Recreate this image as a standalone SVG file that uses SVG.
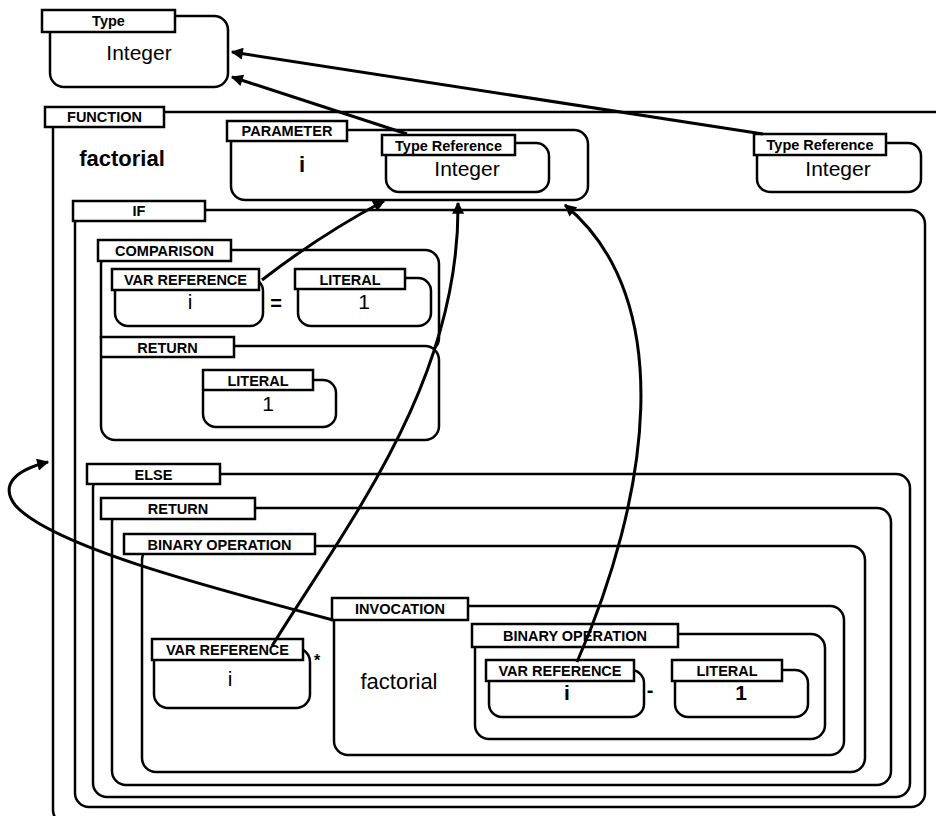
<svg xmlns="http://www.w3.org/2000/svg" width="936" height="816" viewBox="0 0 936 816">
<defs>
<marker id="arr" viewBox="0 0 10 10" refX="9" refY="5" markerWidth="17" markerHeight="12" markerUnits="userSpaceOnUse" orient="auto">
<path d="M0,0 L10,5 L0,10 z" fill="#000"/>
</marker>
<style>
.body{fill:#fff;stroke:#000;stroke-width:2.5}
.tab{fill:#fff;stroke:#000;stroke-width:2.5}
.lbl{font-family:"Liberation Sans",Arial,sans-serif;font-weight:bold;font-size:14.5px;text-anchor:middle;fill:#000}
.val{font-family:"Liberation Sans",Arial,sans-serif;font-size:21px;text-anchor:middle;fill:#000}
.valb{font-family:"Liberation Sans",Arial,sans-serif;font-weight:bold;font-size:21px;text-anchor:middle;fill:#000}
.conn{fill:none;stroke:#000;stroke-width:3;marker-end:url(#arr)}
</style>
</defs>
<rect width="936" height="816" fill="#fff"/>

<g id="type">
<rect class="body" x="50" y="16" width="178" height="71" rx="14"/>
<rect class="tab" x="42" y="10" width="133" height="22"/>
<text class="lbl" x="108.5" y="26">Type</text>
<text class="val" x="139" y="60">Integer</text>
</g>

<g id="function">
<rect class="body" x="53" y="112" width="900" height="712" rx="14"/>
<rect class="tab" x="45" y="107" width="119" height="20"/>
<text class="lbl" x="104.5" y="122">FUNCTION</text>
<text class="valb" x="122" y="166" style="font-size:22px">factorial</text>
</g>

<g id="parameter">
<rect class="body" x="231" y="130" width="357" height="70" rx="14"/>
<rect class="tab" x="227" y="121" width="120" height="20"/>
<text class="lbl" x="287" y="136">PARAMETER</text>
<text class="valb" x="302" y="172" style="font-size:22px">i</text>
</g>

<g id="typeref1">
<rect class="body" x="386" y="143" width="163" height="49" rx="13"/>
<rect class="tab" x="382" y="135" width="133" height="20"/>
<text class="lbl" x="448.5" y="150.5">Type Reference</text>
<text class="val" x="467" y="176">Integer</text>
</g>

<g id="typeref2">
<rect class="body" x="757" y="143" width="164" height="49" rx="13"/>
<rect class="tab" x="754" y="134" width="132" height="21"/>
<text class="lbl" x="820" y="150">Type Reference</text>
<text class="val" x="838" y="176">Integer</text>
</g>

<g id="if">
<rect class="body" x="75" y="210" width="850" height="597" rx="14"/>
<rect class="tab" x="73" y="201" width="132" height="20"/>
<text class="lbl" x="139" y="216">IF</text>
</g>

<g id="comparison">
<rect class="body" x="101" y="250" width="338" height="102" rx="14"/>
<rect class="tab" x="98" y="240" width="133" height="21"/>
<text class="lbl" x="164.5" y="255.5">COMPARISON</text>
<text class="valb" x="276" y="310" style="font-size:20px">=</text>
</g>

<g id="varref1">
<rect class="body" x="115" y="278" width="148" height="48" rx="13"/>
<rect class="tab" x="112" y="269" width="147" height="21"/>
<text class="lbl" x="185.5" y="284.5">VAR REFERENCE</text>
<text class="val" x="190" y="309">i</text>
</g>

<g id="literal1">
<rect class="body" x="298" y="278" width="133" height="48" rx="13"/>
<rect class="tab" x="295" y="269" width="110" height="20"/>
<text class="lbl" x="350" y="284.5">LITERAL</text>
<text class="val" x="364" y="309">1</text>
</g>

<g id="return1">
<rect class="body" x="101" y="346" width="338" height="94" rx="14"/>
<rect class="tab" x="101" y="337" width="133" height="20"/>
<text class="lbl" x="167.5" y="352.5">RETURN</text>
</g>

<g id="literal2">
<rect class="body" x="203" y="380" width="133" height="47" rx="13"/>
<rect class="tab" x="203" y="370" width="110" height="20"/>
<text class="lbl" x="258" y="385.5">LITERAL</text>
<text class="val" x="268" y="411">1</text>
</g>

<g id="else">
<rect class="body" x="93" y="474" width="817" height="323" rx="14"/>
<rect class="tab" x="87" y="464" width="133" height="20"/>
<text class="lbl" x="153.5" y="479.5">ELSE</text>
</g>

<g id="return2">
<rect class="body" x="112" y="508" width="779" height="277" rx="14"/>
<rect class="tab" x="101" y="498" width="154" height="21"/>
<text class="lbl" x="178" y="513.5">RETURN</text>
</g>

<g id="binop1">
<rect class="body" x="142" y="546" width="723" height="226" rx="14"/>
<rect class="tab" x="124" y="534" width="191" height="20"/>
<text class="lbl" x="219.5" y="549.5">BINARY OPERATION</text>
</g>

<g id="varref2">
<rect class="body" x="154" y="648" width="156" height="60" rx="14"/>
<rect class="tab" x="152" y="639" width="151" height="21"/>
<text class="lbl" x="227.5" y="654.5">VAR REFERENCE</text>
<text class="val" x="230" y="686">i</text>
<text class="valb" x="317" y="666" style="font-size:16px">*</text>
</g>

<g id="invocation">
<rect class="body" x="334" y="606" width="510" height="149" rx="14"/>
<rect class="tab" x="332" y="598" width="136" height="22"/>
<text class="lbl" x="400" y="614">INVOCATION</text>
<text class="val" x="399" y="689" style="font-size:22px">factorial</text>
</g>

<g id="binop2">
<rect class="body" x="475" y="634" width="350" height="105" rx="14"/>
<rect class="tab" x="472" y="624" width="206" height="23"/>
<text class="lbl" x="575" y="641">BINARY OPERATION</text>
<text class="valb" x="650" y="697" style="font-size:20px">-</text>
</g>

<g id="varref3">
<rect class="body" x="489" y="670" width="155" height="47" rx="13"/>
<rect class="tab" x="486" y="660" width="148" height="21"/>
<text class="lbl" x="560" y="675.5">VAR REFERENCE</text>
<text class="valb" x="567" y="700">i</text>
</g>

<g id="literal3">
<rect class="body" x="675" y="670" width="133" height="47" rx="13"/>
<rect class="tab" x="672" y="660" width="110" height="21"/>
<text class="lbl" x="727" y="675.5">LITERAL</text>
<text class="valb" x="741" y="700">1</text>
</g>

<g id="connectors">
<path class="conn" d="M407 134 L232 77"/>
<path class="conn" d="M763 134 L232 52"/>
<path class="conn" d="M262 280 Q320 235 384 201"/>
<path class="conn" d="M272 646 C350 520 460 380 458 203"/>
<path class="conn" d="M577 662 C648 500 680 300 565 205"/>
<path class="conn" d="M333 620 C200 585 50 545 15 505 C0 485 15 470 48 462"/>
</g>
</svg>
